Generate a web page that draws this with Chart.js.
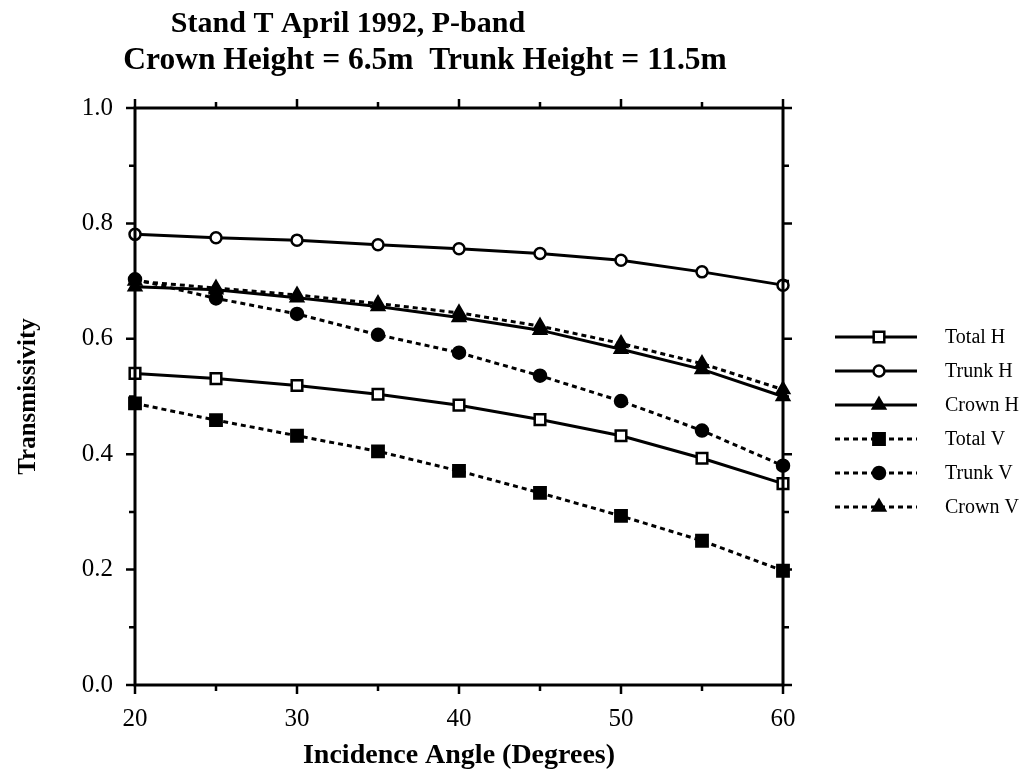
<!DOCTYPE html>
<html>
<head>
<meta charset="utf-8">
<script src="https://cdn.jsdelivr.net/npm/chart.js@4.4.1/dist/chart.umd.min.js"></script>
<style>
html,body{margin:0;padding:0;background:#fff;}
#wrap{position:relative;width:1031px;height:774px;}
</style>
</head>
<body>
<div id="wrap"><canvas id="c" width="1031" height="774"></canvas></div>
<script>
// ---- data ----
const angles = [20, 25, 30, 35, 40, 45, 50, 55, 60];
const totalH = [0.540, 0.531, 0.519, 0.504, 0.485, 0.460, 0.432, 0.393, 0.349];
const trunkH = [0.781, 0.775, 0.771, 0.763, 0.756, 0.748, 0.736, 0.716, 0.693];
const crownH = [0.690, 0.685, 0.671, 0.656, 0.637, 0.615, 0.582, 0.547, 0.500];
const totalV = [0.488, 0.459, 0.432, 0.405, 0.371, 0.333, 0.293, 0.250, 0.198];
const trunkV = [0.703, 0.670, 0.643, 0.607, 0.576, 0.536, 0.492, 0.441, 0.380];
const crownV = [0.700, 0.688, 0.676, 0.661, 0.645, 0.622, 0.592, 0.557, 0.512];
const seriesNames = ['Total H', 'Trunk H', 'Crown H', 'Total V', 'Trunk V', 'Crown V'];
const titleLines = ['Stand T April 1992, P-band', 'Crown Height = 6.5m  Trunk Height = 11.5m'];
const xTitle = 'Incidence Angle (Degrees)';
const yTitle = 'Transmissivity';

const pts = arr => arr.map((v, i) => ({x: angles[i], y: v}));

function ds(label, values, dashed, style, radius, filled) {
  return {
    label, data: pts(values),
    borderColor: '#000', borderWidth: 3,
    borderDash: dashed ? [5, 4] : [],
    pointStyle: style, pointRadius: radius, pointHoverRadius: radius,
    pointBackgroundColor: filled ? '#000' : '#fff',
    pointBorderColor: '#000', pointBorderWidth: 2.5,
    tension: 0, clip: false, fill: false
  };
}

const datasets = [
  ds(seriesNames[0], totalH, false, 'rect', 7.5, false),
  ds(seriesNames[1], trunkH, false, 'circle', 5.5, false),
  ds(seriesNames[2], crownH, false, 'triangle', 7, true),
  ds(seriesNames[3], totalV, true, 'rect', 8, true),
  ds(seriesNames[4], trunkV, true, 'circle', 6, true),
  ds(seriesNames[5], crownV, true, 'triangle', 7, true)
];

function drawMarker(ctx, d, x, y) {
  ctx.save();
  ctx.setLineDash([]);
  ctx.lineWidth = d.pointBorderWidth;
  ctx.strokeStyle = d.pointBorderColor;
  ctx.fillStyle = d.pointBackgroundColor;
  const r = d.pointRadius;
  ctx.beginPath();
  if (d.pointStyle === 'circle') {
    ctx.arc(x, y, r, 0, Math.PI * 2);
  } else if (d.pointStyle === 'rect') {
    const s = r * Math.SQRT1_2;
    ctx.rect(x - s, y - s, 2 * s, 2 * s);
  } else {
    let a = 0;
    ctx.moveTo(x + Math.sin(a) * r, y - Math.cos(a) * r);
    a += 2 * Math.PI / 3;
    ctx.lineTo(x + Math.sin(a) * r, y - Math.cos(a) * r);
    a += 2 * Math.PI / 3;
    ctx.lineTo(x + Math.sin(a) * r, y - Math.cos(a) * r);
    ctx.closePath();
  }
  ctx.fill();
  ctx.stroke();
  ctx.restore();
}

const decor = {
  id: 'decor',
  beforeDraw(chart) {
    const ctx = chart.ctx;
    ctx.save();
    ctx.fillStyle = '#fff';
    ctx.fillRect(0, 0, chart.width, chart.height);
    ctx.restore();
  },
  afterDraw(chart) {
    const ctx = chart.ctx;
    const xs = chart.scales.x, ys = chart.scales.y;
    const a = chart.chartArea;
    ctx.save();
    // frame
    ctx.strokeStyle = '#000';
    ctx.lineWidth = 3;
    ctx.setLineDash([]);
    ctx.strokeRect(a.left, a.top, a.right - a.left, a.bottom - a.top);
    // ticks
    ctx.lineWidth = 2.5;
    ctx.beginPath();
    xs.ticks.forEach(t => {
      const px = xs.getPixelForValue(t.value);
      const len = (Math.round(t.value) % 10 === 0) ? 9 : 6;
      ctx.moveTo(px, a.bottom); ctx.lineTo(px, a.bottom + len);
      ctx.moveTo(px, a.top); ctx.lineTo(px, a.top - len);
    });
    ys.ticks.forEach(t => {
      const py = ys.getPixelForValue(t.value);
      const len = (Math.round(t.value * 10) % 2 === 0) ? 9 : 6;
      ctx.moveTo(a.left, py); ctx.lineTo(a.left - len, py);
      ctx.moveTo(a.right, py); ctx.lineTo(a.right + len, py);
    });
    ctx.stroke();
    // title
    ctx.fillStyle = '#000';
    ctx.textAlign = 'center';
    ctx.textBaseline = 'middle';
    ctx.font = 'bold 30px "Liberation Serif", "Times New Roman", serif';
    ctx.fillText(titleLines[0], 348, 24);
    ctx.font = 'bold 31.5px "Liberation Serif", "Times New Roman", serif';
    ctx.fillText(titleLines[1], 425, 61);
    // legend
    chart.data.datasets.forEach((d, i) => {
      const y = 337 + i * 34;
      ctx.save();
      ctx.strokeStyle = '#000';
      ctx.lineWidth = d.borderWidth;
      ctx.setLineDash(d.borderDash);
      ctx.beginPath();
      ctx.moveTo(835, y); ctx.lineTo(917, y);
      ctx.stroke();
      ctx.restore();
      drawMarker(ctx, d, 879, y);
      ctx.fillStyle = '#000';
      ctx.textAlign = 'left';
      ctx.textBaseline = 'middle';
      ctx.font = '20px "Liberation Serif", "Times New Roman", serif';
      ctx.fillText(d.label, 945, y + 1);
    });
    ctx.restore();
  }
};

new Chart(document.getElementById('c'), {
  type: 'line',
  data: {datasets},
  plugins: [decor],
  options: {
    responsive: false,
    animation: false,
    events: [],
    layout: {padding: {top: 108, right: 248, left: 0, bottom: 0}},
    plugins: {legend: {display: false}, tooltip: {enabled: false}, title: {display: false}},
    scales: {
      x: {
        type: 'linear', min: 20, max: 60,
        afterFit: s => { s.height = 89; },
        border: {display: false},
        grid: {display: false, drawTicks: false},
        ticks: {
          stepSize: 5, padding: 19, color: '#000', maxRotation: 0, autoSkip: false,
          font: {family: '"Liberation Serif", "Times New Roman", serif', size: 25},
          callback: v => (Math.round(v) % 10 === 0 ? String(v) : '')
        },
        title: {
          display: true, text: xTitle, color: '#000', padding: {top: 0, bottom: 1},
          font: {family: '"Liberation Serif", "Times New Roman", serif', size: 28, weight: 'bold'}
        }
      },
      y: {
        type: 'linear', min: 0, max: 1,
        afterFit: s => { s.width = 135; },
        border: {display: false},
        grid: {display: false, drawTicks: false},
        ticks: {
          stepSize: 0.1, padding: 22, color: '#000', autoSkip: false,
          font: {family: '"Liberation Serif", "Times New Roman", serif', size: 25},
          callback: v => (Math.round(v * 10) % 2 === 0 ? v.toFixed(1) : '')
        },
        title: {
          display: true, text: yTitle, color: '#000', padding: {top: 14, bottom: 0},
          font: {family: '"Liberation Serif", "Times New Roman", serif', size: 25, weight: 'bold'}
        }
      }
    }
  }
});
</script>
</body>
</html>
